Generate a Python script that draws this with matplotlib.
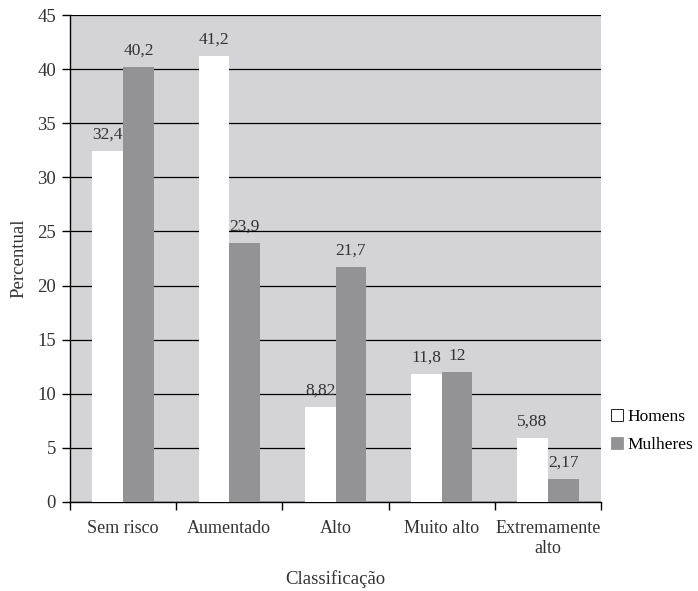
import matplotlib
matplotlib.use("Agg")
import matplotlib.pyplot as plt
import numpy as np

categories = ["Sem risco", "Aumentado", "Alto", "Muito alto", "Extremamente\nalto"]
homens = [32.4, 41.2, 8.82, 11.8, 5.88]
mulheres = [40.2, 23.9, 21.7, 12, 2.17]
homens_lbl = ["32,4", "41,2", "8,82", "11,8", "5,88"]
mulheres_lbl = ["40,2", "23,9", "21,7", "12", "2,17"]
yticks = [0, 5, 10, 15, 20, 25, 30, 35, 40, 45]

plt.rcParams['font.family'] = ['Liberation Serif', 'DejaVu Serif']

W, H = 698, 591
fig = plt.figure(figsize=(W/100, H/100), dpi=100)
ax = fig.add_axes([70/W, 1-502/H, (601-70)/W, (502-15)/H])
ax.set_facecolor('#d4d4d6')

x = np.arange(len(categories))
bw = 0.29
b1 = ax.bar(x - bw/2, homens, bw, color='white', label='Homens', zorder=3)
b2 = ax.bar(x + bw/2, mulheres, bw, color='#939396', label='Mulheres', zorder=3)

for xi, v, s in zip(x - bw/2, homens, homens_lbl):
    ax.annotate(s, (xi, v), xytext=(0, 6), textcoords='offset points',
                ha='center', va='bottom', fontsize=12.5, color='#333333')
for xi, v, s in zip(x + bw/2, mulheres, mulheres_lbl):
    ax.annotate(s, (xi, v), xytext=(0, 6), textcoords='offset points',
                ha='center', va='bottom', fontsize=12.5, color='#333333')

ax.set_xlim(-0.5, len(categories) - 0.5)
ax.set_ylim(0, 45)
ax.set_yticks(yticks)
ax.set_yticklabels([str(t) for t in yticks], fontsize=13.5, color='#333333')
ax.yaxis.grid(True, color='black', linewidth=0.9, zorder=1)
ax.set_axisbelow(True)

ax.set_xticks(np.arange(len(categories) + 1) - 0.5)
ax.set_xticklabels([])
ax.set_xticks(x, minor=True)
ax.set_xticklabels(categories, minor=True, fontsize=13, color='#333333')
ax.tick_params(axis='x', which='minor', length=0, pad=13)
ax.tick_params(axis='x', which='major', length=6, width=1, direction='out')
ax.tick_params(axis='y', length=6, width=1, direction='out', pad=4)

for s in ['top', 'right']:
    ax.spines[s].set_visible(False)
ax.spines['left'].set_linewidth(1)
ax.spines['bottom'].set_linewidth(1)

ax.set_xlabel('Classificação', fontsize=13.5, color='#333333', labelpad=10)
ax.set_ylabel('Percentual', fontsize=13.5, color='#333333', labelpad=7)

leg = fig.legend(handles=[b1, b2], labels=['Homens', 'Mulheres'],
                 loc='upper left', bbox_to_anchor=(604/W, 1-402/H),
                 frameon=False, fontsize=12.5, handlelength=0.7, handleheight=0.7,
                 handletextpad=0.25, labelspacing=0.7, borderaxespad=0)
for h in leg.legend_handles:
    h.set_edgecolor('black')
    h.set_linewidth(0.6)
leg.legend_handles[1].set_edgecolor('#939396')

fig.savefig('out.png', dpi=100)
